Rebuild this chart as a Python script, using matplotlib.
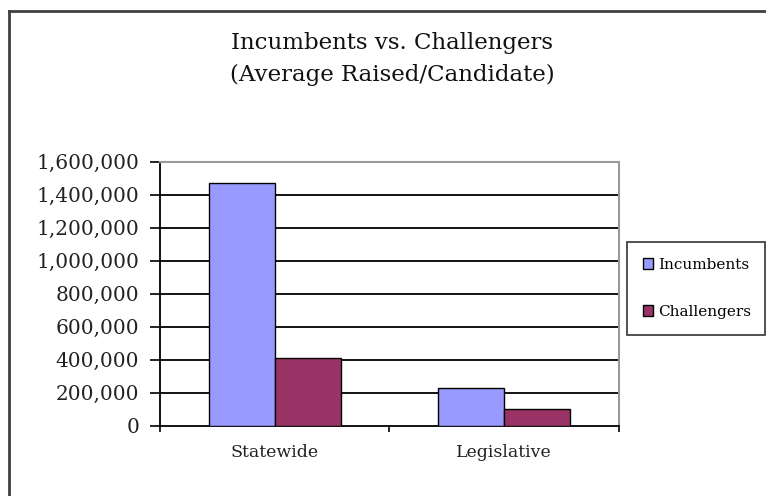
import matplotlib
matplotlib.use("Agg")
import matplotlib.pyplot as plt
from matplotlib.ticker import FuncFormatter, FixedLocator
from matplotlib.lines import Line2D
import numpy as np

categories = ["Statewide", "Legislative"]
incumbents = [1468000, 230000]
challengers = [412000, 99000]
series_names = ["Incumbents", "Challengers"]
title_lines = ["Incumbents vs. Challengers", "(Average Raised/Candidate)"]
yticks = [0, 200000, 400000, 600000, 800000, 1000000, 1200000, 1400000, 1600000]

W, H = 766, 496
fig = plt.figure(figsize=(W / 100, H / 100), dpi=100)
fig.patch.set_facecolor("white")

font = "DejaVu Serif"
ax = fig.add_axes([160 / W, 1 - 425.7 / H, (618.6 - 160) / W, (425.7 - 161.5) / H])

x = np.arange(len(categories))
bw = 0.288
ax.bar(x - bw / 2, incumbents, bw, color="#9999FF", edgecolor="black", linewidth=1.0, label=series_names[0], zorder=3)
ax.bar(x + bw / 2, challengers, bw, color="#993366", edgecolor="black", linewidth=1.0, label=series_names[1], zorder=3)

ax.set_xlim(-0.5, len(categories) - 0.5)
ax.set_ylim(0, 1600000)
ax.set_yticks(yticks)
ax.yaxis.set_major_formatter(FuncFormatter(lambda v, p: f"{int(v):,}"))
for t in yticks[1:-1]:
    ax.axhline(t, color="black", linewidth=1.3, zorder=1)

ax.xaxis.set_major_locator(FixedLocator([-0.5, 0.5, 1.5]))
ax.xaxis.set_major_formatter(FuncFormatter(lambda v, p: ""))
ax.xaxis.set_minor_locator(FixedLocator(list(x)))
ax.set_xticklabels(categories, minor=True)
ax.tick_params(axis="x", which="minor", length=0, pad=13, labelsize=12.5)
ax.tick_params(axis="x", which="major", length=4.5, width=1.2, direction="out", color="black")
ax.tick_params(axis="y", length=7, width=1.2, direction="out", labelsize=14.5, pad=8)
for lbl in ax.get_yticklabels() + ax.get_xticklabels(minor=True):
    lbl.set_fontfamily(font)
    lbl.set_color("#222222")

for s in ["left", "bottom"]:
    ax.spines[s].set_color("black")
    ax.spines[s].set_linewidth(1.3)
for s in ["top", "right"]:
    ax.spines[s].set_color("#9a9a9a")
    ax.spines[s].set_linewidth(1.5)

fig.text(392 / W, 1 - 43 / H, title_lines[0], ha="center", va="center", fontsize=16.5,
         family=font, color="#111111")
fig.text(392 / W, 1 - 75 / H, title_lines[1], ha="center", va="center", fontsize=16.5,
         family=font, color="#111111")

leg = ax.legend(loc="center left", bbox_to_anchor=(626.7 / W, 1 - 335 / H, (765 - 626.7) / W, (335 - 241.7) / H),
                bbox_transform=fig.transFigure, mode="expand", frameon=True, fancybox=False,
                prop={"family": font, "size": 11}, handlelength=0.65, handleheight=0.65,
                handletextpad=0.35, labelspacing=2.15, borderpad=1.05, borderaxespad=0)
leg.get_frame().set_edgecolor("black")
leg.get_frame().set_linewidth(1.2)

# outer chart frame (left and top visible)
fig.add_artist(Line2D([9 / W, 9 / W], [0, 1 - 11 / H], transform=fig.transFigure, color="#404040", linewidth=2))
fig.add_artist(Line2D([9 / W, 1], [1 - 11 / H, 1 - 11 / H], transform=fig.transFigure, color="#404040", linewidth=2))

fig.savefig("out.png", dpi=100)
